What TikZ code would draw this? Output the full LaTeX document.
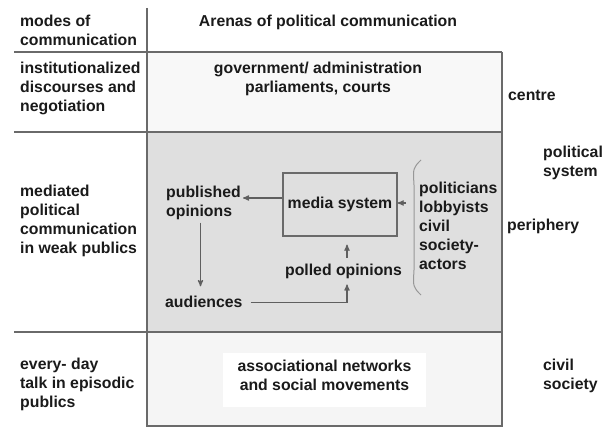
\documentclass[tikz,border=0pt]{standalone}
\usepackage{fontspec}
\setmainfont{Liberation Sans}
\usepackage{tikz}
\usetikzlibrary{arrows, positioning}
\definecolor{rulegray}{HTML}{6A6A6A}
\definecolor{inkgray}{HTML}{1A1A1A}
\definecolor{centrefill}{HTML}{F8F8F8}
\definecolor{periphfill}{HTML}{DFDFDF}
\definecolor{civilfill}{HTML}{F5F5F5}
\tikzset{
>=stealth', % small solid arrow heads
lbl/.style={font=\bfseries\fontsize{15.8}{19}\selectfont, text=inkgray, inner sep=0pt}, % every label
col/.style={lbl, align=left, anchor=north west}, % left aligned blocks of text
mid/.style={lbl, align=center, anchor=north}, % centred blocks of text
rule/.style={draw=rulegray, line width=1.4pt}, % lines of the table
flow/.style={->, draw=rulegray!90!black, line width=1.2pt}, % arrows between the opinions
}
\begin{document}
\begin{tikzpicture}[x=1pt, y=-1pt]
\useasboundingbox (0,0) rectangle (613,428);
% the three arenas
\fill[centrefill] (147,52) rectangle (502,132);
\fill[periphfill] (147,132) rectangle (502,332);
\fill[civilfill] (147,332) rectangle (502,426);
\fill[white] (223,353) rectangle (426,407);
\draw[rule] (147,8) -- (147,426) -- (502,426) -- (502,52);
\foreach \y in {52,132,332}
    \draw[rule] (14,\y) -- (502,\y);

% headings
\node[col] (modes) at (20,14.5) {modes of\\communication};
\node[mid] (arenas) at (328,14.5) {Arenas of political communication};

% left column
\node[col] (inst) at (20,61.5) {institutionalized\\discourses and\\negotiation};
\node[col] (mediated) at (20,184.5) {mediated\\political\\communication\\in weak publics};
\node[col] (everyday) at (20,357.5) {every- day\\talk in episodic\\publics};

% arenas
\node[mid] (gov) at (318,62) {government/ administration\\parliaments, courts};
\node[mid] (assoc) at (324.5,359.5) {associational networks\\and social movements};

% right column
\node[lbl, anchor=base west] (centre) at (508,100) {centre};
\node[col] (polsys) at (543,145.5) {political\\system};
\node[lbl, anchor=base west] (periph) at (507,230) {periphery};
\node[col] (civsoc) at (543,358.5) {civil\\society};

% the media system and the opinions
\node[lbl, draw=rulegray, line width=1.2pt, minimum width=114pt, minimum height=63pt] (media) at (340,204.5) {media system};
\node[col] (pub) at (166,185.5) {published\\opinions};
\node[lbl, anchor=base west] (aud) at (165,307) {audiences};
\node[lbl, anchor=base] (poll) at (343.5,275) {polled opinions};
\node[col] (actors) at (419,181.5) {politicians\\lobbyists\\civil\\society-\\actors};
\draw[draw=rulegray!70, line width=1pt] (421,160) .. controls (413,168) .. (414,185) -- (414,270) .. controls (413,287) .. (421,295);

\draw[flow] ([yshift=6.5pt]media.west) -- ([xshift=2pt, yshift=6.5pt]media.west -| pub.east);
\draw[flow] ([xshift=-3pt, yshift=-3pt]pub.south) -- ([xshift=-3pt, yshift=9pt]pub.south |- aud.north);
\draw[flow] ([xshift=8pt, yshift=-1.5pt]aud.east) -| ([xshift=3.5pt, yshift=-6pt]poll.south);
\draw[flow] ([xshift=3.5pt, yshift=5.5pt]poll.north) -- ([xshift=7pt, yshift=-8pt]media.south);
\draw[flow] ([xshift=8pt, yshift=1.5pt]media.east) -- ([yshift=1.5pt]media.east);
\end{tikzpicture}
\end{document}
